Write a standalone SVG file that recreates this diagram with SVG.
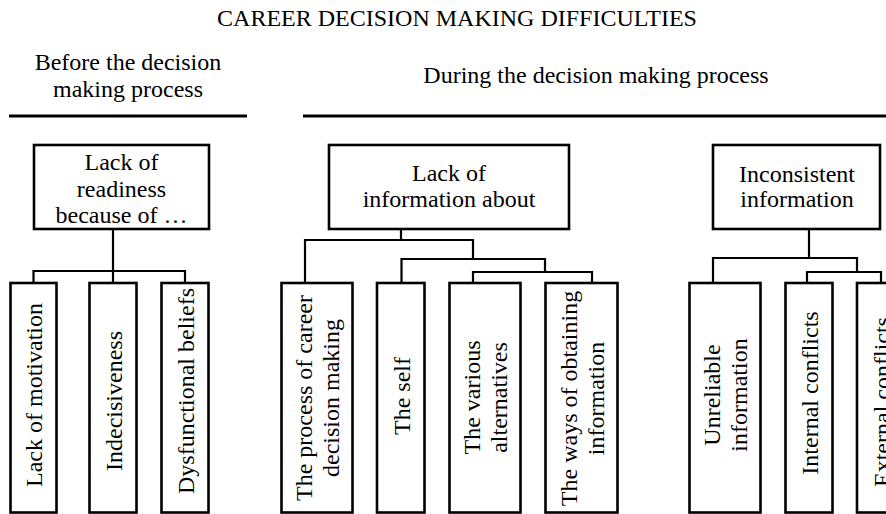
<svg xmlns="http://www.w3.org/2000/svg" width="886" height="514" viewBox="0 0 886 514">
  <style>
    text { font-family: "Liberation Serif", "Times New Roman", serif; font-size: 24px; fill: #000; text-anchor: middle; }
    .box { fill: #fff; stroke: #000; stroke-width: 2.6; }
    .conn { fill: none; stroke: #000; stroke-width: 2.2; }
    .rule { fill: none; stroke: #000; stroke-width: 3; }
  </style>
  <rect width="886" height="514" fill="#fff"/>

  <g id="title">
    <text x="457" y="26">CAREER DECISION MAKING DIFFICULTIES</text>
  </g>
  <g id="header-before">
    <text x="128" y="70">Before the decision</text>
    <text x="128" y="96.5">making process</text>
    <path class="rule" d="M9,116 H247"/>
  </g>
  <g id="header-during">
    <text x="596" y="83">During the decision making process</text>
    <path class="rule" d="M303,116 H886"/>
  </g>

  <g id="connectors">
    <path class="conn" d="M113,229 V283 M33.5,283 V271 H185 V283"/>
    <path class="conn" d="M401,229 V240 M305,283 V240 H473 V259 M401.5,283 V259 H545 V272 M473,283 V272 H592 V283"/>
    <path class="conn" d="M809,229 V258 M713,283 V258 H857 V272 M807,283 V272 H881 V283"/>
  </g>

  <g id="box-readiness">
    <rect class="box" x="34" y="145" width="175" height="84"/>
    <text x="121.5" y="170">Lack of</text>
    <text x="121.5" y="196.5">readiness</text>
    <text x="121.5" y="223">because of …</text>
  </g>
  <g id="box-lack-information">
    <rect class="box" x="329" y="145" width="240" height="84"/>
    <text x="449" y="181">Lack of</text>
    <text x="449" y="207">information about</text>
  </g>
  <g id="box-inconsistent">
    <rect class="box" x="713" y="145" width="167" height="84"/>
    <text x="797" y="181.5">Inconsistent</text>
    <text x="797" y="207">information</text>
  </g>

  <g id="leaf-motivation">
    <rect class="box" x="10.5" y="283" width="46" height="229.5"/>
    <text transform="translate(42,395) rotate(-90)">Lack of motivation</text>
  </g>
  <g id="leaf-indecisiveness">
    <rect class="box" x="89.5" y="283" width="47" height="229.5"/>
    <text transform="translate(121.5,401) rotate(-90)">Indecisiveness</text>
  </g>
  <g id="leaf-dysfunctional">
    <rect class="box" x="161.5" y="283" width="47" height="229.5"/>
    <text transform="translate(193.5,391) rotate(-90)">Dysfunctional beliefs</text>
  </g>

  <g id="leaf-process">
    <rect class="box" x="281.5" y="283" width="71" height="229.5"/>
    <text transform="translate(312,398) rotate(-90)">The process of career</text>
    <text transform="translate(338.5,398) rotate(-90)">decision making</text>
  </g>
  <g id="leaf-self">
    <rect class="box" x="377" y="283" width="47.5" height="229.5"/>
    <text transform="translate(409.5,396) rotate(-90)">The self</text>
  </g>
  <g id="leaf-alternatives">
    <rect class="box" x="449.5" y="283" width="71" height="229.5"/>
    <text transform="translate(480,397.5) rotate(-90)">The various</text>
    <text transform="translate(506.5,397.5) rotate(-90)">alternatives</text>
  </g>
  <g id="leaf-ways">
    <rect class="box" x="545.5" y="283" width="72" height="229.5"/>
    <text transform="translate(577,398.5) rotate(-90)">The ways of obtaining</text>
    <text transform="translate(603.5,398.5) rotate(-90)">information</text>
  </g>

  <g id="leaf-unreliable">
    <rect class="box" x="689.5" y="283" width="71" height="229.5"/>
    <text transform="translate(720,395) rotate(-90)">Unreliable</text>
    <text transform="translate(746.5,395) rotate(-90)">information</text>
  </g>
  <g id="leaf-internal">
    <rect class="box" x="785.5" y="283" width="47" height="229.5"/>
    <text transform="translate(817.5,393) rotate(-90)">Internal conflicts</text>
  </g>
  <g id="leaf-external">
    <rect class="box" x="857" y="283" width="48" height="229.5"/>
    <text transform="translate(889.5,402) rotate(-90)">External conflicts</text>
  </g>
</svg>
